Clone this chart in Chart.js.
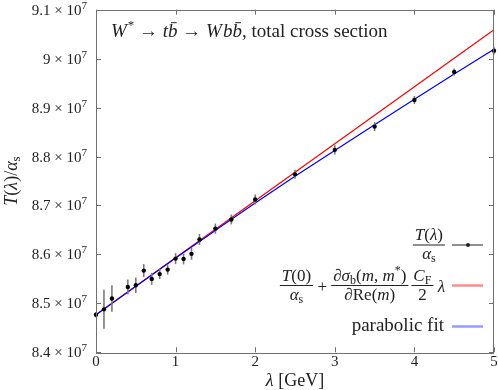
<!DOCTYPE html>
<html><head><meta charset="utf-8">
<script src="https://cdn.jsdelivr.net/npm/chart.js@4.4.1/dist/chart.umd.min.js"></script>
<style>html,body{margin:0;padding:0;background:#fff;}canvas{display:block;}</style>
</head><body>
<canvas id="c" width="498" height="390"></canvas>
<script>
// ---- data ----
const lambdaValues = [0, 0.1, 0.2, 0.4, 0.5, 0.6, 0.7, 0.8, 0.9, 1.0, 1.1, 1.2, 1.3, 1.5, 1.7, 2.0, 2.5, 3.0, 3.5, 4.0, 4.5, 5.0];
const crossSection = [84767000, 84878000, 85100000, 85333000, 85369000, 85669000, 85500000, 85598000, 85690000, 85914000, 85908000, 86012000, 86306000, 86527000, 86714000, 87122000, 87636000, 88136000, 88612000, 89155000, 89727000, 90163000];
const crossSectionErr = [55000, 398000, 271000, 153000, 157000, 133000, 122000, 102000, 102000, 112000, 112000, 122000, 112000, 102000, 102000, 102000, 92000, 92000, 92000, 82000, 71000, 71000];
const linearX = [0, 5];
const linearY = [84767000, 90592000];
const parabolicX = [0, 0.5, 1, 1.5, 2, 2.5, 3, 3.5, 4, 4.5, 5];
const parabolicY = [84767000, 85350000, 85925000, 86490000, 87050000, 87595000, 88125000, 88650000, 89170000, 89685000, 90190000];
const xTickValues = [0, 1, 2, 3, 4, 5];
const yTickValues = [84000000, 85000000, 86000000, 87000000, 88000000, 89000000, 90000000, 91000000];

const SERIF = '"Liberation Serif", "DejaVu Serif", serif';
function fnt(s){ return (s.it ? 'italic ' : '') + s.s + 'px ' + SERIF; }
function segW(ctx, segs){ let w = 0; for (const s of segs){ ctx.font = fnt(s); w += ctx.measureText(s.t).width + (s.k || 0); } return w; }
function drawSegs(ctx, segs, x, y, align){
  const w = segW(ctx, segs);
  let cx = align === 'center' ? x - w/2 : (align === 'right' ? x - w : x);
  ctx.textAlign = 'left'; ctx.textBaseline = 'alphabetic';
  for (const s of segs){
    ctx.font = fnt(s);
    const sw = ctx.measureText(s.t).width;
    const yy = y + (s.dy || 0);
    ctx.fillText(s.t, cx, yy);
    if (s.bar){ ctx.fillRect(cx + sw*0.3, yy - s.s*0.78, sw*0.6, 1); }
    cx += sw + (s.k || 0);
  }
  return w;
}
function fracW(ctx, num, den){ return Math.max(segW(ctx, num), segW(ctx, den)) + 4; }
function drawFrac(ctx, num, den, x, barY){
  const w = fracW(ctx, num, den);
  drawSegs(ctx, num, x + w/2, barY - 5, 'center');
  ctx.fillRect(x, barY - 0.5, w, 1);
  drawSegs(ctx, den, x + w/2, barY + 14, 'center');
  return w;
}

const L = 17;
const it = (t, s=L, o={}) => Object.assign({t, s, it:true}, o);
const rm = (t, s=L, o={}) => Object.assign({t, s, it:false}, o);
const alphaS = [it('α'), rm('s', 12, {dy:3})];

const decor = {
  id: 'decor',
  beforeDatasetDraw(chart, args){
    if (args.index !== 0) return;
    const ctx = chart.ctx, xs = chart.scales.x, ys = chart.scales.y;
    ctx.save();
    ctx.strokeStyle = '#7a7a7a'; ctx.lineWidth = 1.6;
    lambdaValues.forEach((lv, i) => {
      const px = xs.getPixelForValue(lv);
      ctx.beginPath();
      ctx.moveTo(px, ys.getPixelForValue(crossSection[i] - crossSectionErr[i]));
      ctx.lineTo(px, ys.getPixelForValue(crossSection[i] + crossSectionErr[i]));
      ctx.stroke();
    });
    ctx.restore();
  },
  afterDraw(chart){
    const ctx = chart.ctx, a = chart.chartArea, xs = chart.scales.x, ys = chart.scales.y;
    ctx.save();
    // frame
    ctx.strokeStyle = '#707070'; ctx.lineWidth = 1;
    ctx.strokeRect(Math.round(a.left) + 0.5, Math.round(a.top) + 0.5, Math.round(a.right - a.left) - 1, Math.round(a.bottom - a.top));
    // inward ticks
    const T = 5;
    ctx.beginPath();
    xs.ticks.forEach(t => {
      const px = Math.round(xs.getPixelForValue(t.value)) + 0.5;
      ctx.moveTo(px, a.bottom); ctx.lineTo(px, a.bottom - T);
      ctx.moveTo(px, a.top); ctx.lineTo(px, a.top + T);
    });
    ys.ticks.forEach(t => {
      const py = Math.round(ys.getPixelForValue(t.value)) + 0.5;
      ctx.moveTo(a.left, py); ctx.lineTo(a.left + T, py);
      ctx.moveTo(a.right, py); ctx.lineTo(a.right - T, py);
    });
    ctx.stroke();
    ctx.fillStyle = '#222';
    // x tick labels
    xs.ticks.forEach(t => {
      drawSegs(ctx, [rm(String(t.value), 15)], xs.getPixelForValue(t.value), a.bottom + 14, 'center');
    });
    // y tick labels
    ys.ticks.forEach(t => {
      const m = (t.value / 1e7);
      const s = Math.abs(m - Math.round(m)) < 1e-9 ? String(Math.round(m)) : m.toFixed(1);
      drawSegs(ctx, [rm(s, 15), rm(' × ', 15), rm('10', 15), rm('7', 11, {dy:-6})], 87, ys.getPixelForValue(t.value) + 5, 'right');
    });
    // axis titles
    drawSegs(ctx, [it('λ', 18), rm(' [GeV]', 18)], (a.left + a.right)/2, 386, 'center');
    ctx.save();
    ctx.translate(17, (a.top + a.bottom)/2);
    ctx.rotate(-Math.PI/2);
    drawSegs(ctx, [it('T', 18), rm('(', 18), it('λ', 18), rm(')', 18), rm('/', 18), it('α', 18), rm('s', 13, {dy:3})], 0, 0, 'center');
    ctx.restore();
    // title
    ctx.fillStyle = '#222';
    drawSegs(ctx, [it('W', 19, {k:1}), rm('*', 13, {dy:-8}), rm(' → ', 19), it('t', 19), it('b', 19, {bar:true}), rm(' → ', 19), it('W', 19, {k:1}), it('b', 19), it('b', 19, {bar:true}), rm(', total cross section', 19)], 111, 37, 'left');
    // legend
    const sx0 = 452, sx1 = 483, rightX = 445;
    // entry 1
    {
      const num = [it('T'), rm('('), it('λ'), rm(')')];
      const w = fracW(ctx, num, alphaS);
      drawFrac(ctx, num, alphaS, rightX - w, 245);
      ctx.strokeStyle = '#222'; ctx.lineWidth = 1;
      ctx.beginPath(); ctx.moveTo(sx0, 245); ctx.lineTo(sx1, 245); ctx.stroke();
      ctx.beginPath(); ctx.arc(468, 245, 2, 0, Math.PI*2); ctx.fill();
    }
    // entry 2
    {
      const n1 = [it('T'), rm('(0)')];
      const n2 = [rm('∂'), it('σ'), rm('b', 12, {dy:3}), rm('('), it('m'), rm(', '), it('m'), rm('*', 12, {dy:-7}), rm(')')];
      const d2 = [rm('∂'), rm('Re('), it('m'), rm(')')];
      const n3 = [it('C'), rm('F', 12, {dy:3})];
      const d3 = [rm('2')];
      const plus = [rm(' + ')], lam = [rm(' '), it('λ')];
      const total = fracW(ctx, n1, alphaS) + segW(ctx, plus) + fracW(ctx, n2, d2) + 3 + fracW(ctx, n3, d3) + segW(ctx, lam);
      let x = rightX - total;
      const by = 285.5;
      x += drawFrac(ctx, n1, alphaS, x, by);
      x += drawSegs(ctx, plus, x, by + 6, 'left');
      x += drawFrac(ctx, n2, d2, x, by) + 3;
      x += drawFrac(ctx, n3, d3, x, by);
      drawSegs(ctx, lam, x, by + 6, 'left');
      ctx.strokeStyle = 'rgba(255,0,0,0.45)'; ctx.lineWidth = 2.5;
      ctx.beginPath(); ctx.moveTo(sx0, by); ctx.lineTo(sx1, by); ctx.stroke();
    }
    // entry 3
    {
      drawSegs(ctx, [rm('parabolic fit', 19)], rightX - 1, 331, 'right');
      ctx.strokeStyle = 'rgba(0,0,255,0.4)'; ctx.lineWidth = 2.5;
      ctx.beginPath(); ctx.moveTo(sx0, 326.5); ctx.lineTo(sx1, 326.5); ctx.stroke();
    }
    ctx.restore();
  }
};

new Chart(document.getElementById('c').getContext('2d'), {
  type: 'scatter',
  data: { datasets: [
    { label: 'T/alpha_s', data: lambdaValues.map((x, i) => ({x, y: crossSection[i]})),
      pointRadius: 2.2, pointBackgroundColor: '#000', pointBorderWidth: 0, showLine: false, clip: false },
    { label: 'parabolic fit', data: parabolicX.map((x, i) => ({x, y: parabolicY[i]})),
      showLine: true, borderColor: '#0000ff', borderWidth: 1.2, pointRadius: 0, cubicInterpolationMode: 'monotone', fill: false },
    { label: 'linear', data: linearX.map((x, i) => ({x, y: linearY[i]})),
      showLine: true, borderColor: '#ff0000', borderWidth: 1.2, pointRadius: 0, fill: false }
  ]},
  options: {
    responsive: false, animation: false, devicePixelRatio: 1,
    layout: { padding: { left: 96, right: 3.5, top: 9.7, bottom: 37.7 } },
    plugins: { legend: { display: false }, tooltip: { enabled: false } },
    scales: {
      x: { type: 'linear', min: 0, max: 5, ticks: { display: false }, grid: { display: false, drawTicks: false }, border: { display: false },
           afterBuildTicks: s => { s.ticks = xTickValues.map(v => ({value: v})); } },
      y: { type: 'linear', min: 84000000, max: 91000000, ticks: { display: false }, grid: { display: false, drawTicks: false }, border: { display: false },
           afterBuildTicks: s => { s.ticks = yTickValues.map(v => ({value: v})); } }
    }
  },
  plugins: [decor]
});
</script>
</body></html>
